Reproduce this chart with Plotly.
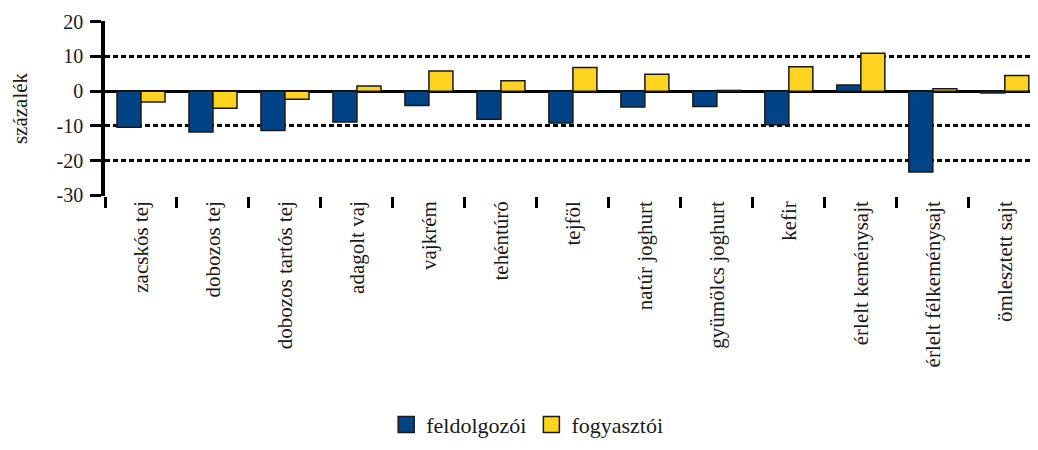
import plotly.graph_objects as go

categories = [
    "zacskós tej", "dobozos tej", "dobozos tartós tej", "adagolt vaj",
    "vajkrém", "tehéntúró", "tejföl", "natúr joghurt", "gyümölcs joghurt",
    "kefir", "érlelt keménysajt", "érlelt félkeménysajt", "ömlesztett sajt",
]
feldolgozoi = [-10.4, -11.8, -11.3, -8.9, -4.1, -8.1, -9.2, -4.6, -4.4, -9.7, 1.8, -23.3, -0.5]
fogyasztoi = [-3.1, -4.9, -2.3, 1.5, 5.8, 3.0, 6.8, 4.9, 0.2, 7.0, 10.9, 0.7, 4.5]
y_ticks = [-30, -20, -10, 0, 10, 20]

FONT = "Liberation Serif"
INK = "#1a1a1a"
BLUE = "#004386"
YELLOW = "#FFD320"

fig = go.Figure()
for name, vals, color in [("feldolgozói", feldolgozoi, BLUE), ("fogyasztói", fogyasztoi, YELLOW)]:
    fig.add_trace(go.Bar(
        x=categories, y=vals, name=name, showlegend=False,
        marker=dict(color=color, line=dict(color=INK, width=1.5)),
    ))
    # legend-only entry, so the swatch can be bigger than plotly's bar swatch
    fig.add_trace(go.Scatter(
        x=[None], y=[None], mode="markers", name=name,
        marker=dict(symbol="square", size=16, color=color, line=dict(color=INK, width=1.5)),
    ))

fig.update_layout(
    paper_bgcolor="white", plot_bgcolor="white",
    font=dict(family=FONT, size=20, color=INK),
    barmode="group", bargap=0.333, bargroupgap=0,
    margin=dict(l=97, r=0, t=13, b=246),
    showlegend=True,
    legend=dict(
        orientation="h", xref="container", yref="container",
        x=0.508, xanchor="center", y=0.04, yanchor="middle",
        font=dict(size=22), itemwidth=30, itemsizing="trace", traceorder="normal",
    ),
    xaxis=dict(
        range=[-0.5, 12.35], automargin=False,
        showgrid=False, showline=False, zeroline=False,
        ticks="outside", tickson="boundaries", ticklen=11, tickwidth=3,
        tickcolor="black", tickangle=-90, tickfont=dict(size=21),
    ),
    yaxis=dict(
        range=[-30.2, 20.2], automargin=False,
        tickvals=y_ticks, ticktext=[str(v) for v in y_ticks],
        showgrid=True, gridcolor="black", gridwidth=2.5, griddash="5px,3px",
        zeroline=True, zerolinecolor="black", zerolinewidth=3,
        showline=True, linecolor="black", linewidth=3.5,
        ticks="outside", ticklen=11, tickwidth=3, tickcolor="black",
        ticklabelstandoff=3, tickfont=dict(size=20),
        title=dict(text="százalék", font=dict(size=21), standoff=24),
    ),
)

fig.write_html("out.html")
